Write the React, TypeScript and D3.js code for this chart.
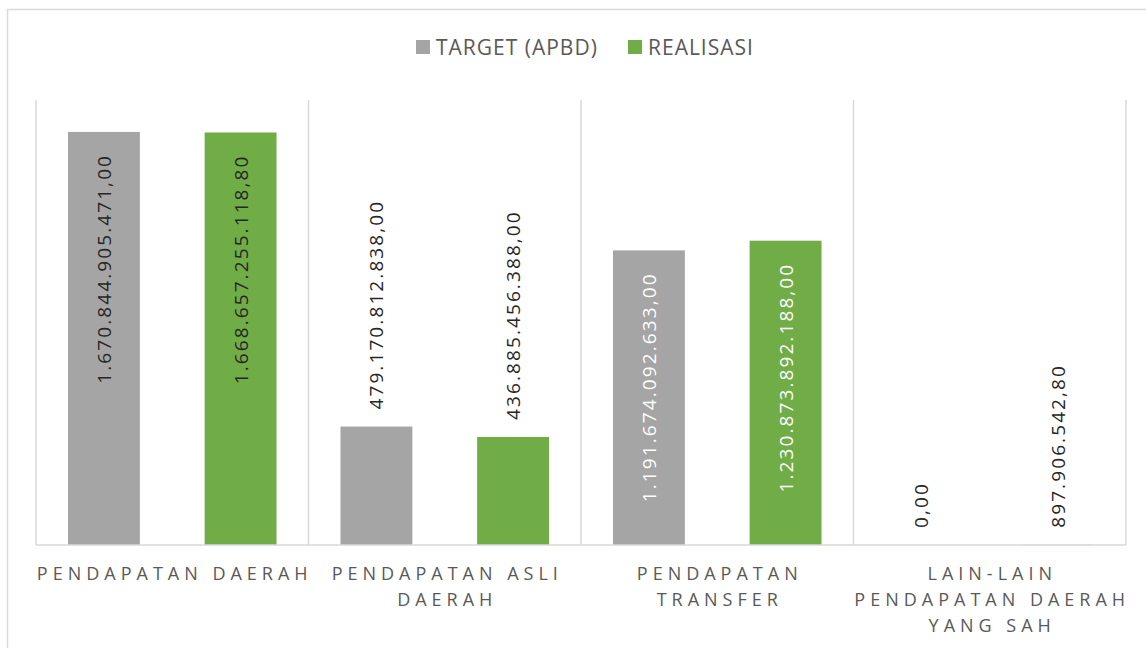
import React from "react";
import * as d3 from "d3";

const categories = [
  "PENDAPATAN DAERAH",
  "PENDAPATAN ASLI DAERAH",
  "PENDAPATAN TRANSFER",
  "LAIN-LAIN PENDAPATAN DAERAH YANG SAH",
];
const categoryLines = [
  ["PENDAPATAN DAERAH"],
  ["PENDAPATAN ASLI", "DAERAH"],
  ["PENDAPATAN", "TRANSFER"],
  ["LAIN-LAIN", "PENDAPATAN DAERAH", "YANG SAH"],
];
const seriesNames = ["TARGET (APBD)", "REALISASI"];
const targetValues = [1670844905471.0, 479170812838.0, 1191674092633.0, 0];
const realisasiValues = [1668657255118.8, 436885456388.0, 1230873892188.0, 897906542.8];
const targetLabels = ["1.670.844.905.471,00", "479.170.812.838,00", "1.191.674.092.633,00", "0,00"];
const realisasiLabels = ["1.668.657.255.118,80", "436.885.456.388,00", "1.230.873.892.188,00", "897.906.542,80"];

const colors = ["#A5A5A5", "#70AD47"];
const W = 1146;
const H = 648;
const plot = { left: 36, right: 1126, top: 100, bottom: 545 };

export default function App() {
  const x0 = d3.scaleBand<string>().domain(categories).range([plot.left, plot.right]).padding(0);
  const x1 = d3
    .scaleBand<string>()
    .domain(seriesNames)
    .range([0, x0.bandwidth()])
    .paddingInner(0.474)
    .paddingOuter(0.234);
  const y = d3.scaleLinear().domain([0, 1.8e12]).range([plot.bottom, plot.top]);

  const series = [
    { name: seriesNames[0], values: targetValues, labels: targetLabels },
    { name: seriesNames[1], values: realisasiValues, labels: realisasiLabels },
  ];

  const boundaries = categories.map((c) => x0(c)!).concat([plot.right]);
  const font = "'Open Sans', 'DejaVu Sans', sans-serif";

  return (
    <svg
      width={W}
      height={H}
      style={{ position: "absolute", left: 0, top: 0, background: "#fff" }}
    >
      <rect x={7.5} y={9.5} width={1160} height={660} fill="#fff" stroke="#D9D9D9" strokeWidth={1.5} />
      {/* legend */}
      <g fontFamily={font} fontSize={21} fill="#595959">
        <rect x={416} y={40} width={14} height={14} fill={colors[0]} />
        <text x={436} y={47} dominantBaseline="central" letterSpacing={1}>
          {seriesNames[0]}
        </text>
        <rect x={628} y={40} width={14} height={14} fill={colors[1]} />
        <text x={648} y={47} dominantBaseline="central" letterSpacing={1}>
          {seriesNames[1]}
        </text>
      </g>
      {/* gridlines */}
      {boundaries.map((bx, i) => (
        <line key={i} x1={bx} x2={bx} y1={plot.top} y2={plot.bottom} stroke="#D9D9D9" strokeWidth={1.5} />
      ))}
      {/* bars */}
      {categories.map((c, ci) =>
        series.map((s, si) => {
          const v = s.values[ci];
          const bx = x0(c)! + x1(s.name)!;
          const by = y(v);
          return (
            <rect
              key={c + s.name}
              x={bx}
              y={by}
              width={x1.bandwidth()}
              height={Math.max(0, plot.bottom - by)}
              fill={colors[si]}
            />
          );
        })
      )}
      {/* axis line */}
      <line x1={plot.left} x2={plot.right} y1={plot.bottom} y2={plot.bottom} stroke="#D9D9D9" strokeWidth={1.5} />
      {/* data labels */}
      {categories.map((c, ci) =>
        series.map((s) => {
          const v = s.values[ci];
          const cx = x0(c)! + x1(s.name)! + x1.bandwidth() / 2;
          const by = y(v);
          const inside = v > 1e12;
          const fill = inside && ci === 2 ? "#FFFFFF" : "#262626";
          const py = inside ? by + 22 : by - 17;
          return (
            <text
              key={"l" + c + s.name}
              transform={`translate(${cx},${py}) rotate(-90)`}
              textAnchor={inside ? "end" : "start"}
              dominantBaseline="central"
              fontFamily={font}
              fontSize={19}
              letterSpacing={2.1}
              fill={fill}
            >
              {s.labels[ci]}
            </text>
          );
        })
      )}
      {/* category labels */}
      {categories.map((c, ci) => {
        const cx = x0(c)! + x0.bandwidth() / 2;
        return (
          <text
            key={"c" + c}
            textAnchor="middle"
            fontFamily={font}
            fontSize={18}
            letterSpacing={5}
            fill="#595959"
          >
            {categoryLines[ci].map((line, li) => (
              <tspan key={li} x={cx + 2.5} y={580 + li * 26}>
                {line}
              </tspan>
            ))}
          </text>
        );
      })}
    </svg>
  );
}
